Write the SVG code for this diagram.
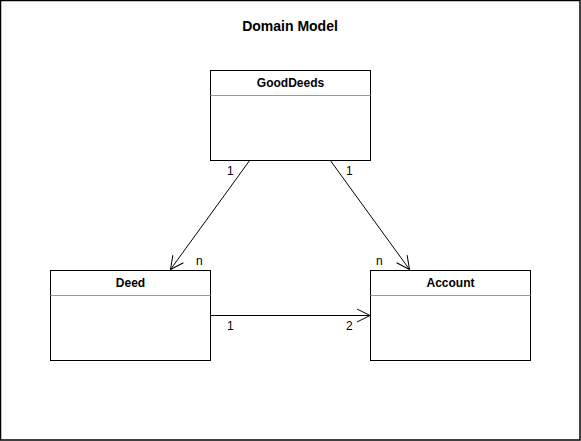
<svg xmlns="http://www.w3.org/2000/svg" width="581" height="441" viewBox="0 0 581 441">
<defs>
<style>
.box{fill:#fff;stroke:#000;stroke-width:1}
.sep{stroke:#999;stroke-width:1}
.ttl{font-family:"Liberation Sans",Arial,sans-serif;font-size:12px;font-weight:bold;fill:#000;text-anchor:middle}
.lbl{font-family:"Liberation Sans",Arial,sans-serif;font-size:12px;fill:#000}
.edge{fill:none;stroke:#000;stroke-width:1}
</style>
<marker id="open" viewBox="0 0 16 16" refX="14.5" refY="8" markerWidth="16" markerHeight="16" markerUnits="userSpaceOnUse" orient="auto">
<path d="M1.5,1.5 L14.5,8 L1.5,14.5" fill="none" stroke="#000" stroke-width="1"/>
</marker>
</defs>
<rect x="0.5" y="0.5" width="579.5" height="439.5" fill="#fff" stroke="#000" stroke-width="1.5"/>
<text x="290" y="31" font-family="Liberation Sans,Arial,sans-serif" font-size="14" font-weight="bold" text-anchor="middle">Domain Model</text>
<g id="connectors">
<line class="edge" x1="250" y1="160" x2="170.5" y2="269.5" marker-end="url(#open)"/>
<line class="edge" x1="330" y1="160" x2="409.5" y2="269.5" marker-end="url(#open)"/>
<line class="edge" x1="210" y1="315.5" x2="370" y2="315.5" marker-end="url(#open)"/>
<text class="lbl" x="227" y="175">1</text>
<text class="lbl" x="346" y="175">1</text>
<text class="lbl" x="196" y="265">n</text>
<text class="lbl" x="376" y="265">n</text>
<text class="lbl" x="227" y="330">1</text>
<text class="lbl" x="346" y="330">2</text>
</g>
<g id="GoodDeeds">
<rect class="box" x="210.5" y="70.5" width="160" height="90"/>
<line class="sep" x1="210.5" y1="95.5" x2="370.5" y2="95.5"/>
<text class="ttl" x="290.5" y="87">GoodDeeds</text>
</g>
<g id="Deed">
<rect class="box" x="50.5" y="270.5" width="160" height="90"/>
<line class="sep" x1="50.5" y1="295.5" x2="210.5" y2="295.5"/>
<text class="ttl" x="130.5" y="287">Deed</text>
</g>
<g id="Account">
<rect class="box" x="370.5" y="270.5" width="160" height="90"/>
<line class="sep" x1="370.5" y1="295.5" x2="530.5" y2="295.5"/>
<text class="ttl" x="450.5" y="287">Account</text>
</g>
</svg>
